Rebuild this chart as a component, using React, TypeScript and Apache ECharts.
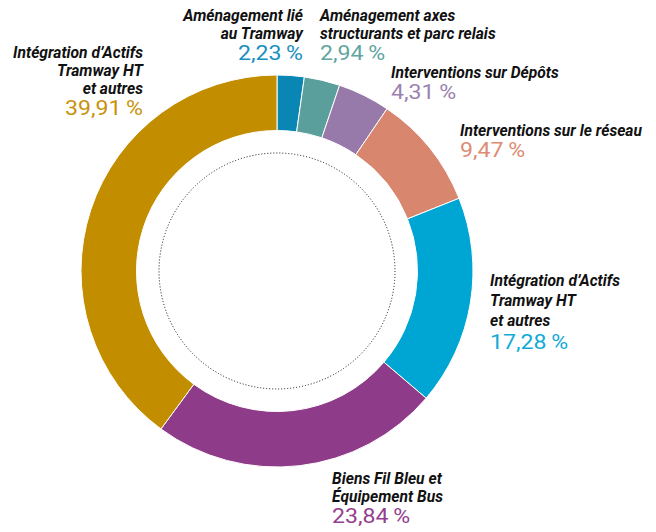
import React, { useEffect, useRef } from "react";
import * as echarts from "echarts";

const categories = [
  "Aménagement lié\nau Tramway",
  "Aménagement axes\nstructurants et parc relais",
  "Interventions sur Dépôts",
  "Interventions sur le réseau",
  "Intégration d’Actifs\nTramway HT\net autres",
  "Biens Fil Bleu et\nÉquipement Bus",
  "Intégration d’Actifs\nTramway HT\net autres",
];
const values = [2.23, 2.94, 4.31, 9.47, 17.28, 23.84, 39.91];
const colors = ["#0a86b4", "#5a9f9b", "#977aaa", "#d8876e", "#00a6d3", "#8e3c89", "#c38d00"];
const valueColors = ["#1a8fc0", "#5fa5a1", "#9a82b0", "#dd8b72", "#12aad6", "#93408e", "#c8920a"];

// label anchor: [x, top y, align, line spacing]
const labelAnchors: [number, number, "left" | "right", number][] = [
  [303, 7, "right", 18],
  [320, 7, "left", 18],
  [391, 64, "left", 18],
  [460, 122, "left", 18],
  [490, 272, "left", 20],
  [332, 470, "left", 18],
  [143, 44, "right", 18],
];

const CX = 277;
const CY = 271;
const nameFont = "'Roboto', 'Liberation Sans', sans-serif";
const valueFont = "'Roboto', 'Liberation Sans', sans-serif";

function fmt(v: number) {
  return v.toFixed(2).replace(".", ",") + "\u2009%";
}

export default function App() {
  const ref = useRef<HTMLDivElement>(null);
  useEffect(() => {
    if (!ref.current) return;
    const chart = echarts.init(ref.current, undefined, { renderer: "svg" });
    const graphics: any[] = [
      {
        type: "circle",
        shape: { cx: CX, cy: CY, r: 118 },
        style: { fill: "none", stroke: "#111", lineWidth: 1, lineDash: [1, 2] },
        silent: true,
      },
    ];
    categories.forEach((name, i) => {
      const [x, y, align, lh] = labelAnchors[i];
      const lines = name.split("\n");
      lines.forEach((ln, j) => {
        graphics.push({
          type: "text",
          x,
          y: y + j * lh,
          scaleX: 0.92,
          style: {
            text: ln,
            fill: "#111",
            font: `italic bold 17px ${nameFont}`,
            align,
            verticalAlign: "top",
          },
        });
      });
      graphics.push({
        type: "text",
        x,
        y: y + lines.length * lh - 1,
        scaleX: 1.1,
        style: {
          text: fmt(values[i]),
          fill: valueColors[i],
          font: `normal 21px ${valueFont}`,
          align,
          verticalAlign: "top",
        },
      });
    });
    chart.setOption({
      animation: false,
      graphic: graphics,
      series: [
        {
          type: "pie",
          center: [CX, CY],
          radius: [140.5, 196],
          startAngle: 90,
          clockwise: true,
          label: { show: false },
          labelLine: { show: false },
          itemStyle: { borderColor: "#fff", borderWidth: 1 },
          emphasis: { disabled: true },
          data: values.map((v, i) => ({
            value: v,
            name: categories[i],
            itemStyle: { color: colors[i] },
          })),
        },
      ],
    });
    return () => chart.dispose();
  }, []);
  return (
    <div
      ref={ref}
      style={{ width: 656, height: 532, position: "fixed", left: 0, top: 0, background: "#fff" }}
    />
  );
}
